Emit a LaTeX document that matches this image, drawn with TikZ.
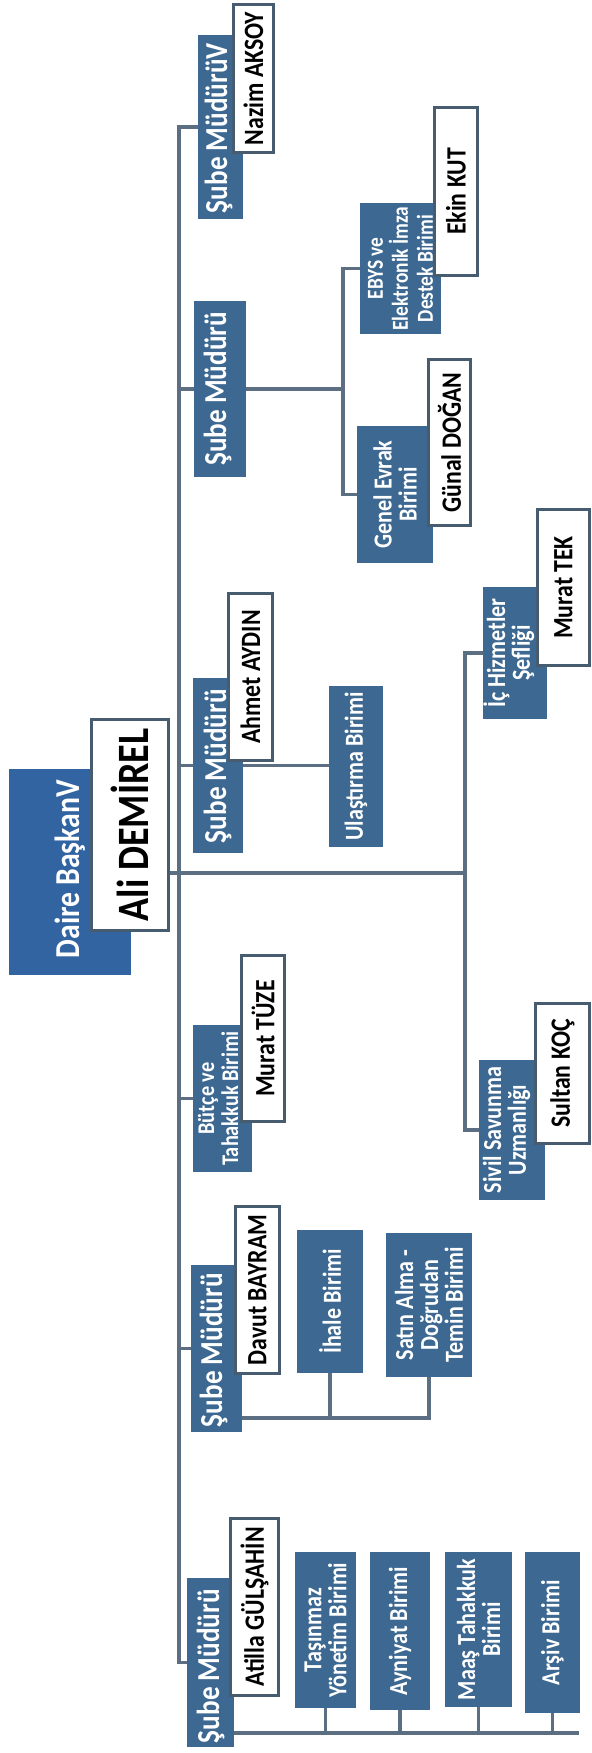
\documentclass[tikz,border=0pt]{standalone}
\usepackage{fontspec}
\setmainfont{Carlito}[FakeStretch=0.85]

\definecolor{boxblue}{RGB}{60,104,145}
\definecolor{headblue}{RGB}{50,100,162}
\definecolor{linegray}{RGB}{92,110,130}
\definecolor{edgegray}{RGB}{72,92,112}

\newcommand\unitfnt{\fontsize{14.8}{14.2}\selectfont\bfseries}
\newcommand\ebysfnt{\fontsize{13}{14.2}\selectfont\bfseries}
\newcommand\mgrfnt{\fontsize{18.2}{20}\selectfont\bfseries}
\newcommand\namefnt{\fontsize{15.9}{18}\selectfont\bfseries}
\newcommand\bossfnt{\fontsize{25.5}{28}\selectfont\bfseries}
\newcommand\headfnt{\fontsize{19.9}{22}\selectfont\bfseries}

\tikzset{
  mgr/.style={fill=boxblue, text=white, rotate=90, inner sep=0pt, font=\mgrfnt},
  unit/.style={fill=boxblue, text=white, rotate=90, inner sep=0pt, align=center, font=\unitfnt},
  namebox/.style={draw=edgegray, line width=0.6mm, fill=white, rotate=90, inner sep=0pt, font=\namefnt},
  conn/.style={draw=linegray, line width=0.7mm},
}

\begin{document}
\begin{tikzpicture}[x=0.2mm, y=-0.2mm]
      \useasboundingbox (0,0) rectangle (591,1753);

      % head of the department
      \node[mgr, fill=headblue, font=\headfnt, align=flush left, text width=41.2mm,
            text height=14mm, text depth=10.4mm] (daire) at (70,872) {\hspace*{3.4mm}Daire BaşkanV};
      \node[namebox, font=\bossfnt, minimum width=42.2mm, minimum height=15.4mm] (ali) at (130,825) {Ali DEMİREL};

      % branch managers
      \node[mgr, align=flush left, text width=36.8mm, text height=5.8mm, text depth=3.2mm] (smV) at (220.5,127) {\hspace*{1.2mm}Şube MüdürüV};
      \node[namebox, minimum width=29.6mm, minimum height=8mm] (nAksoy) at (253.5,78.5) {Nazim AKSOY};

      \node[mgr, align=flush center, text width=35.2mm, text height=6.4mm, text depth=4mm] (smB) at (220,389) {Şube Müdürü};

      \node[mgr, align=flush left, text width=35mm, text height=6.6mm, text depth=3.4mm] (smC) at (218,765.5) {\hspace*{2mm}Şube Müdürü};
      \node[namebox, minimum width=33.4mm, minimum height=8.8mm] (nAhmet) at (250.5,677) {Ahmet AYDIN};

      \node[mgr, font=\fontsize{13.6}{13.7}\selectfont\bfseries, align=flush center, text width=29.4mm,
            text height=4.2mm, text depth=7.6mm] (smD) at (222.5,1098.5) {Bütçe ve\\Tahakkuk Birimi};
      \node[namebox, minimum width=33.2mm, minimum height=8.6mm] (nTuze) at (263,1038.5) {Murat TÜZE};

      \node[mgr, align=flush left, text width=33.4mm, text height=6.2mm, text depth=4mm] (smE) at (216.5,1348.5) {\hspace*{1mm}Şube Müdürü};
      \node[namebox, minimum width=33.4mm, minimum height=8.8mm] (nDavut) at (257.5,1290) {Davut BAYRAM};

      \node[mgr, align=flush left, text width=33.8mm, text height=6.4mm, text depth=3mm] (smF) at (210.5,1662.5) {\hspace*{0.8mm}Şube Müdürü};
      \node[namebox, minimum width=35.4mm, minimum height=9.6mm] (nAtilla) at (254.5,1607) {Atilla GÜLŞAHİN};

      % units
      \node[unit, font=\ebysfnt, minimum width=26.2mm, minimum height=16.2mm] (ebys) at (400.5,268.5) {EBYS ve\\Elektronik İmza\\Destek Birimi};
      \node[namebox, minimum width=33.6mm, minimum height=8.6mm] (nEkin) at (456,191.5) {Ekin KUT};

      \node[unit, minimum width=27.4mm, minimum height=15.2mm] (genel) at (395,494.5) {Genel Evrak\\Birimi};
      \node[namebox, minimum width=33.2mm, minimum height=8.4mm] (nGunal) at (449.5,442.5) {Günal DOĞAN};

      \node[unit, minimum width=32.2mm, minimum height=10.8mm] (ulas) at (356,766.5) {Ulaştırma Birimi};

      \node[unit, align=flush center, text width=26.4mm, text height=4.4mm, text depth=8.4mm] (ic) at (515,653) {İç Hizmetler\\Şefliği};
      \node[namebox, minimum width=31.2mm, minimum height=10.4mm] (nTek) at (563.5,587.5) {Murat TEK};

      \node[unit, align=flush center, text width=28mm, text height=4.4mm, text depth=8.8mm] (sivil) at (512,1130) {Sivil Savunma\\Uzmanlığı};
      \node[namebox, minimum width=28mm, minimum height=10.8mm] (nSultan) at (562.5,1073.5) {Sultan KOÇ};

      \node[unit, minimum width=28.6mm, minimum height=13.2mm] (ihale) at (330,1301.5) {İhale Birimi};
      \node[unit, minimum width=28.8mm, minimum height=17.2mm] (satin) at (429,1305) {Satın Alma -\\Doğrudan\\Temin Birimi};

      \node[unit, minimum width=31.2mm, minimum height=12.2mm] (tasinmaz) at (325.5,1630) {Taşınmaz\\Yönetim Birimi};
      \node[unit, minimum width=31.6mm, minimum height=12mm] (ayniyat) at (400,1631) {Ayniyat Birimi};
      \node[unit, minimum width=31mm, minimum height=13.4mm] (maas) at (478.5,1629.5) {Maaş Tahakkuk\\Birimi};
      \node[unit, minimum width=32.2mm, minimum height=11mm] (arsiv) at (552.5,1632.5) {Arşiv Birimi};

      % connectors
      \coordinate (spine) at (179,0);
      \coordinate (hubR) at (465,873);
      \coordinate (busB) at (343,389);
      \coordinate (busE) at (0,1418);
      \coordinate (busF) at (579,1733);

      \draw[conn] (smV.north) -- (smV.north -| spine) -- (smF.north -| spine) -- (smF.north);
      \foreach \b in {smB,smC,smD,smE}
        \draw[conn] (\b.north) -- (\b.north -| spine);

      \draw[conn] (ali.south |- hubR) -- (hubR);
      \draw[conn] (ic.north) -| (hubR) |- (sivil.north);

      \draw[conn] (smB.south) -- (smB.south -| busB);
      \draw[conn] (ebys.north) -| (busB) |- (genel.north);

      \draw[conn] (smC.south) -- (smC.south -| ulas.north);

      \draw[conn] (smE.south |- busE) -| (satin.west);
      \draw[conn] (ihale.west) -- (ihale.west |- busE);

      \draw[conn] (smF.south |- busF) -- (busF);
      \foreach \u in {tasinmaz,ayniyat,maas,arsiv}
        \draw[conn] (\u.west) -- (\u.west |- busF);
\end{tikzpicture}
\end{document}
